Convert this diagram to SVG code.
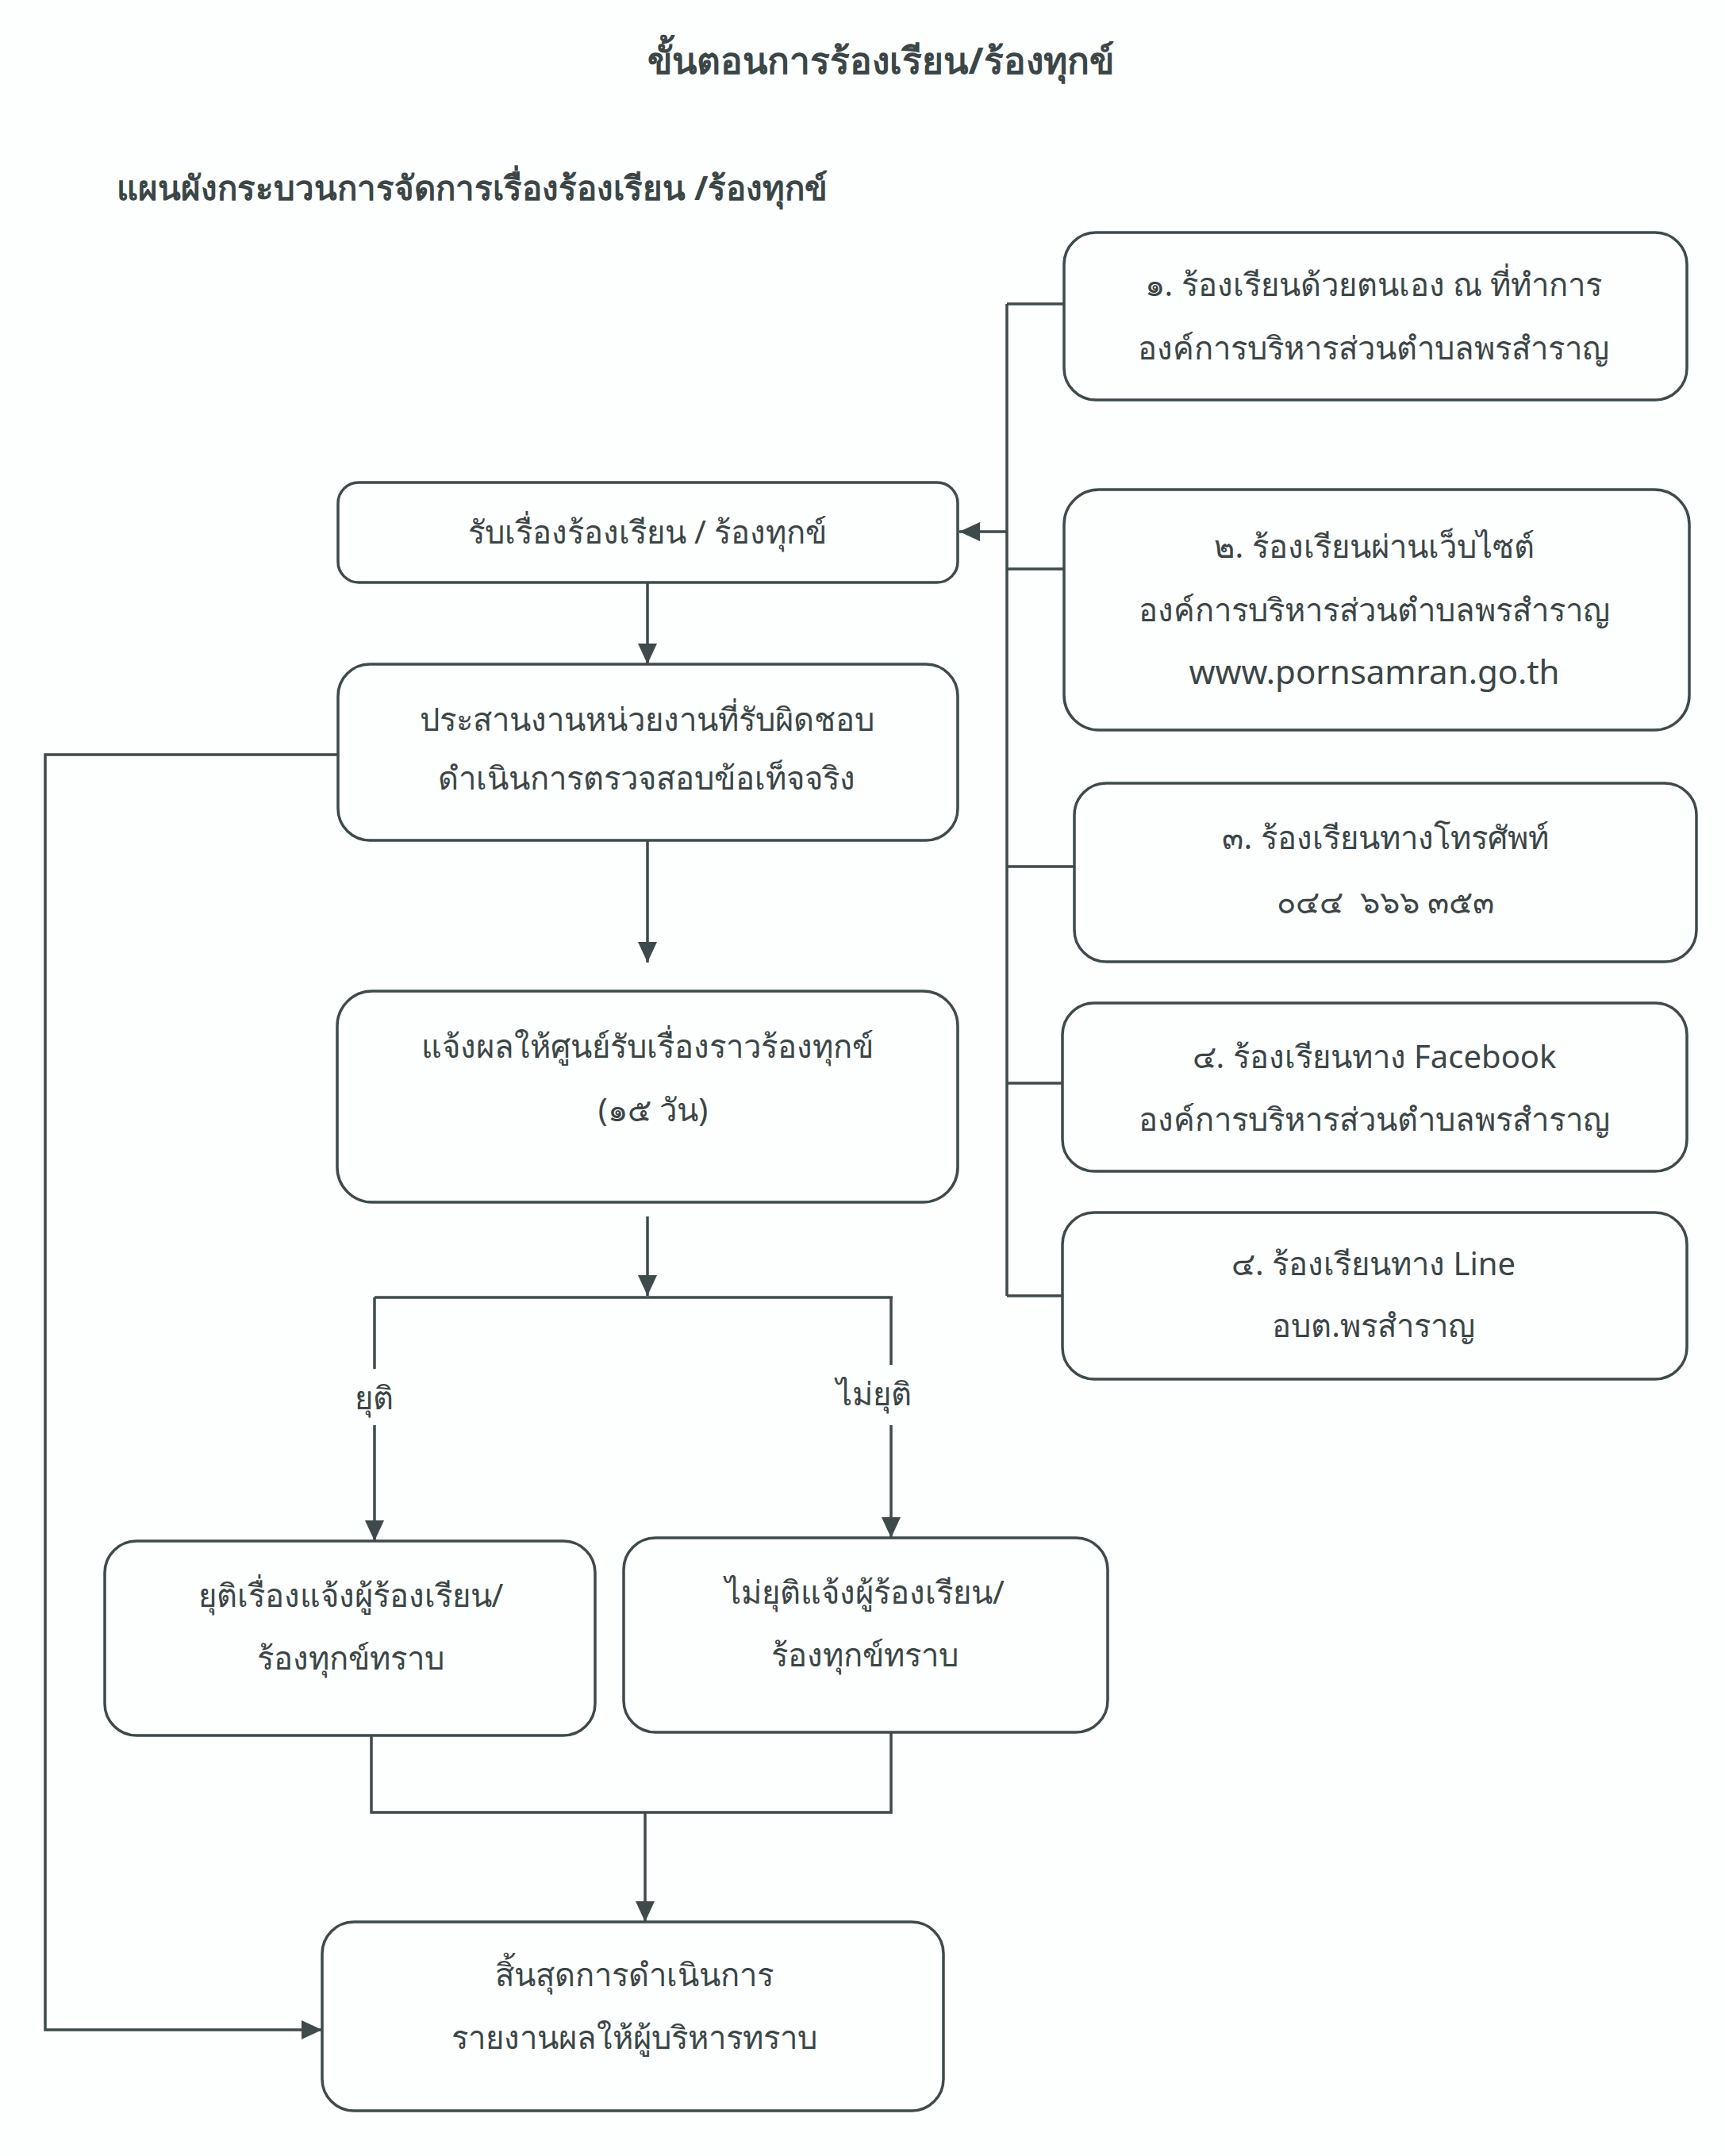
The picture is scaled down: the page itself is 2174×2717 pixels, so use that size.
<svg xmlns="http://www.w3.org/2000/svg" width="2174" height="2717" viewBox="0 0 2174 2717">
<defs>
<marker id="ah" markerUnits="userSpaceOnUse" markerWidth="28" markerHeight="24" refX="26" refY="12" orient="auto">
<path d="M0 0 L26 12 L0 24 Z" fill="#3e4a4c"/>
</marker>
<style>
.box{fill:none;stroke:#3e4a4c;stroke-width:3.5}
.ln{fill:none;stroke:#3e4a4c;stroke-width:3.5}
.t{font-family:"Noto Sans","DejaVu Sans","Open Sans",sans-serif;font-size:40px;fill:#3b4647;text-anchor:middle}
.h{font-family:"Noto Sans","DejaVu Sans",sans-serif;font-weight:bold;font-size:46px;fill:#3b4647}
</style>
</defs>
<rect width="2174" height="2717" fill="#fdfefe"/>
<text class="h" x="1110" y="93" text-anchor="middle">ขั้นตอนการร้องเรียน/ร้องทุกข์</text>
<text class="h" x="147" y="252" style="font-size:42px">แผนผังกระบวนการจัดการเรื่องร้องเรียน /ร้องทุกข์</text>

<g id="connectors">
<path class="ln" d="M1269 383 V1633"/>
<path class="ln" d="M1269 383 H1341"/>
<path class="ln" d="M1269 717 H1341"/>
<path class="ln" d="M1269 1092 H1354"/>
<path class="ln" d="M1269 1365 H1339"/>
<path class="ln" d="M1269 1633 H1339"/>
<path class="ln" d="M1269 670 H1209" marker-end="url(#ah)"/>
<path class="ln" d="M816 734 V837" marker-end="url(#ah)"/>
<path class="ln" d="M816 1059 V1213" marker-end="url(#ah)"/>
<path class="ln" d="M816 1533 V1633" marker-end="url(#ah)"/>
<path class="ln" d="M472 1635 H1125"/>
<path class="ln" d="M472 1635 V1725"/>
<path class="ln" d="M472 1796 V1942" marker-end="url(#ah)"/>
<path class="ln" d="M1123 1635 V1720"/>
<path class="ln" d="M1123 1796 V1938" marker-end="url(#ah)"/>
<path class="ln" d="M468 2187 V2284 H1123 V2183"/>
<path class="ln" d="M813 2284 V2422" marker-end="url(#ah)"/>
<path class="ln" d="M426 951 H57 V2558 H406" marker-end="url(#ah)"/>
<text class="t" x="471" y="1776">ยุติ</text>
<text class="t" x="1101" y="1771">ไม่ยุติ</text>
</g>

<g id="n1">
<rect class="box" x="1341" y="293" width="785" height="211" rx="40"/>
<text class="t" x="1731" y="373">๑. ร้องเรียนด้วยตนเอง ณ ที่ทำการ</text>
<text class="t" x="1731" y="453">องค์การบริหารส่วนตำบลพรสำราญ</text>
</g>
<g id="n2">
<rect class="box" x="1341" y="617" width="788" height="303" rx="44"/>
<text class="t" x="1732" y="703">๒. ร้องเรียนผ่านเว็บไซต์</text>
<text class="t" x="1732" y="783">องค์การบริหารส่วนตำบลพรสำราญ</text>
<text class="t" x="1732" y="862" style="font-size:42px">www.pornsamran.go.th</text>
</g>
<g id="n3">
<rect class="box" x="1354" y="987" width="784" height="225" rx="40"/>
<text class="t" x="1746" y="1070">๓. ร้องเรียนทางโทรศัพท์</text>
<text class="t" x="1746" y="1151" xml:space="preserve">๐๔๔  ๖๖๖ ๓๕๓</text>
</g>
<g id="n4">
<rect class="box" x="1339" y="1264" width="787" height="212" rx="40"/>
<text class="t" x="1732" y="1346">๔. ร้องเรียนทาง Facebook</text>
<text class="t" x="1732" y="1425">องค์การบริหารส่วนตำบลพรสำราญ</text>
</g>
<g id="n5">
<rect class="box" x="1339" y="1528" width="787" height="210" rx="40"/>
<text class="t" x="1731" y="1607">๔. ร้องเรียนทาง Line</text>
<text class="t" x="1731" y="1685">อบต.พรสำราญ</text>
</g>
<g id="nA">
<rect class="box" x="426" y="608" width="781" height="126" rx="26"/>
<text class="t" x="816" y="685">รับเรื่องร้องเรียน / ร้องทุกข์</text>
</g>
<g id="nB">
<rect class="box" x="426" y="837" width="781" height="222" rx="40"/>
<text class="t" x="815" y="921">ประสานงานหน่วยงานที่รับผิดชอบ</text>
<text class="t" x="815" y="995">ดำเนินการตรวจสอบข้อเท็จจริง</text>
</g>
<g id="nC">
<rect class="box" x="425" y="1249" width="782" height="266" rx="44"/>
<text class="t" x="816" y="1333">แจ้งผลให้ศูนย์รับเรื่องราวร้องทุกข์</text>
<text class="t" x="823" y="1413">(๑๕ วัน)</text>
</g>
<g id="nD">
<rect class="box" x="132" y="1942" width="618" height="245" rx="40"/>
<text class="t" x="442" y="2025">ยุติเรื่องแจ้งผู้ร้องเรียน/</text>
<text class="t" x="442" y="2104">ร้องทุกข์ทราบ</text>
</g>
<g id="nE">
<rect class="box" x="786" y="1938" width="610" height="245" rx="40"/>
<text class="t" x="1090" y="2021">ไม่ยุติแจ้งผู้ร้องเรียน/</text>
<text class="t" x="1090" y="2100">ร้องทุกข์ทราบ</text>
</g>
<g id="nF">
<rect class="box" x="406" y="2422" width="783" height="238" rx="40"/>
<text class="t" x="799" y="2503">สิ้นสุดการดำเนินการ</text>
<text class="t" x="799" y="2582">รายงานผลให้ผู้บริหารทราบ</text>
</g>
</svg>
